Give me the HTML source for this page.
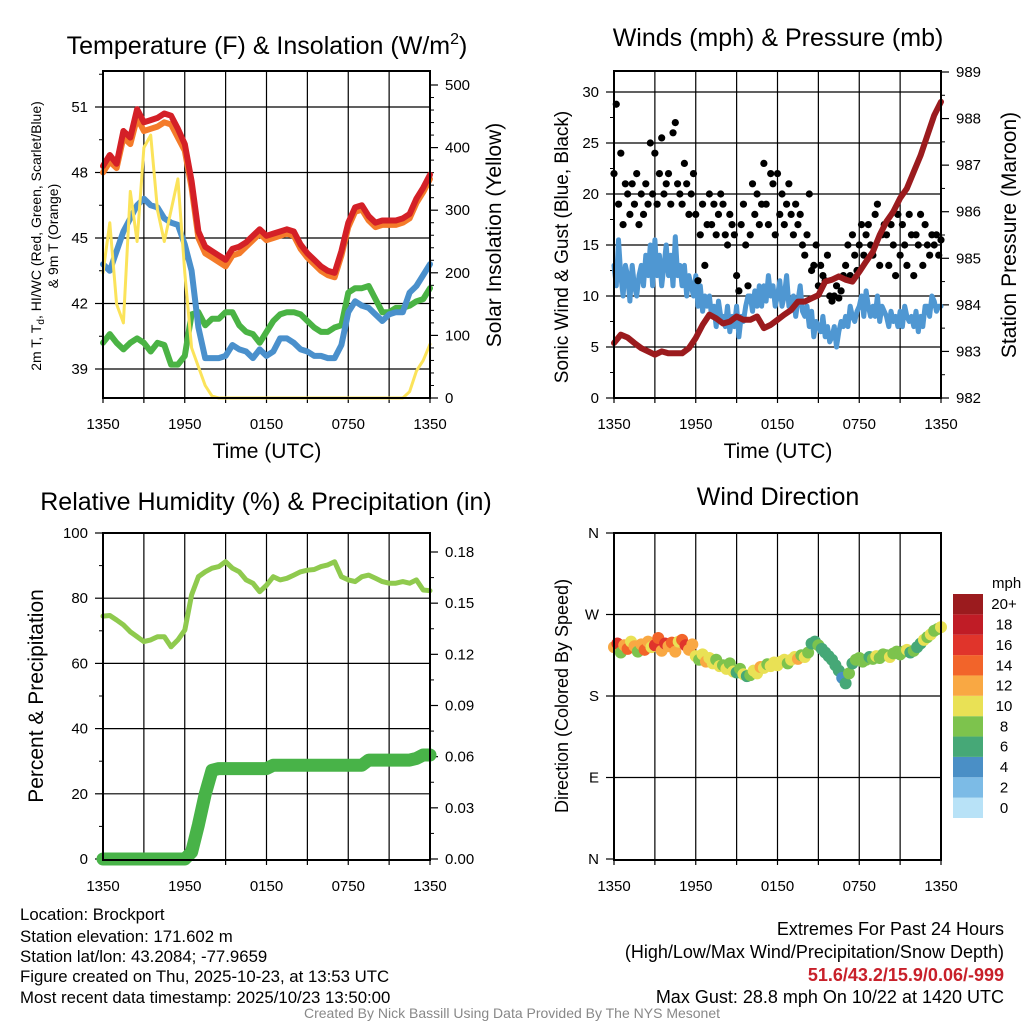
<!DOCTYPE html>
<html><head><meta charset="utf-8"><style>
html,body{margin:0;padding:0;background:#fff;}
svg{display:block;font-family:"Liberation Sans",sans-serif;}
</style></head><body>
<svg id="root" width="1024" height="1024" viewBox="0 0 1024 1024" xmlns="http://www.w3.org/2000/svg">
<rect x="0" y="0" width="1024" height="1024" fill="#fff"/>
<g id="layer"></g>
<text x="267" y="54" font-size="25" text-anchor="middle">Temperature (F) &amp; Insolation (W/m<tspan font-size="16" dy="-10">2</tspan><tspan dy="10">)</tspan></text>
<text x="778" y="46" font-size="25" text-anchor="middle">Winds (mph) &amp; Pressure (mb)</text>
<text x="266" y="510" font-size="25" text-anchor="middle">Relative Humidity (%) &amp; Precipitation (in)</text>
<text x="778" y="505" font-size="25" text-anchor="middle">Wind Direction</text>
<text x="267" y="458" font-size="21" text-anchor="middle">Time (UTC)</text>
<text x="778" y="458" font-size="21" text-anchor="middle">Time (UTC)</text>
<text transform="translate(41,236) rotate(-90)" font-size="14" text-anchor="middle">2m T, T<tspan font-size="10" dy="3">d</tspan><tspan dy="-3">, HI/WC (Red, Green, Scarlet/Blue)</tspan></text>
<text transform="translate(58,236) rotate(-90)" font-size="14" text-anchor="middle">&amp; 9m T (Orange)</text>
<text transform="translate(501,235) rotate(-90)" font-size="21" text-anchor="middle">Solar Insolation (Yellow)</text>
<text transform="translate(568,247) rotate(-90)" font-size="19" text-anchor="middle">Sonic Wind &amp; Gust (Blue, Black)</text>
<text transform="translate(1016,235) rotate(-90)" font-size="21" text-anchor="middle">Station Pressure (Maroon)</text>
<text transform="translate(43,696) rotate(-90)" font-size="21" text-anchor="middle">Percent &amp; Precipitation</text>
<text transform="translate(568,696) rotate(-90)" font-size="18" text-anchor="middle">Direction (Colored By Speed)</text>
<g font-size="16.8">
<text x="20" y="920">Location: Brockport</text>
<text x="20" y="942">Station elevation: 171.602 m</text>
<text x="20" y="962">Station lat/lon: 43.2084; -77.9659</text>
<text x="20" y="982">Figure created on Thu, 2025-10-23, at 13:53 UTC</text>
<text x="20" y="1003">Most recent data timestamp: 2025/10/23 13:50:00</text>
</g>
<g font-size="18" text-anchor="end">
<text x="1004" y="935">Extremes For Past 24 Hours</text>
<text x="1004" y="958">(High/Low/Max Wind/Precipitation/Snow Depth)</text>
<text x="1004" y="981" fill="#c8202a" font-weight="bold">51.6/43.2/15.9/0.06/-999</text>
<text x="1004" y="1003">Max Gust: 28.8 mph On 10/22 at 1420 UTC</text>
</g>
<text x="512" y="1018" font-size="14" fill="#888" text-anchor="middle">Created By Nick Bassill Using Data Provided By The NYS Mesonet</text>
</svg>
<script>
// ---- data (half-hour samples, 0..24 h) ----
const xTickLabels = ["1350","1950","0150","0750","1350"];
const tempRed = [48.3,48.8,48.4,49.9,49.6,50.9,50.3,50.4,50.5,50.7,50.6,50.0,49.3,47.6,45.3,44.6,44.4,44.2,44.0,44.5,44.6,44.8,45.1,45.4,45.1,45.2,45.3,45.4,45.3,44.7,44.3,44.0,43.7,43.5,43.4,44.4,45.7,46.4,46.5,46.0,45.7,45.8,45.8,45.8,45.9,46.1,46.8,47.3,47.9];
const temp9m = [48.0,48.5,48.2,49.6,49.3,50.5,49.9,50.0,50.1,50.3,50.2,49.6,49.0,47.3,45.0,44.3,44.1,43.9,43.7,44.2,44.3,44.6,44.9,45.2,44.9,45.0,45.1,45.2,45.1,44.5,44.1,43.8,43.5,43.3,43.2,44.2,45.5,46.2,46.3,45.8,45.5,45.6,45.6,45.6,45.7,45.9,46.6,47.1,47.7];
const windChill = [43.8,43.5,44.4,45.3,45.9,46.5,46.8,46.5,46.4,45.9,45.7,45.6,44.7,43.5,40.9,39.5,39.5,39.5,39.6,40.1,39.9,39.8,39.5,39.9,39.6,39.8,40.4,40.4,40.2,39.9,39.8,39.6,39.6,39.5,39.5,40.1,41.6,42.1,41.9,41.8,41.5,41.2,41.5,41.6,41.6,42.5,42.8,43.3,43.8];
const dewPoint = [40.2,40.6,40.2,39.9,40.2,40.4,40.2,39.8,40.2,40.1,39.2,39.2,39.6,41.5,41.6,41.0,41.3,41.3,41.6,41.6,41.0,40.7,40.6,40.2,40.7,41.2,41.5,41.6,41.6,41.5,41.2,40.9,40.7,40.7,40.9,41.0,42.5,42.7,42.7,42.8,42.2,41.6,41.6,41.8,41.8,41.9,42.1,42.2,42.7];
const solar = [200,280,150,120,330,250,400,420,300,250,300,350,200,80,50,20,3,0,0,0,0,0,0,0,0,0,0,0,0,0,0,0,0,0,0,0,0,0,0,0,0,0,0,0,0,10,43,60,86];
// winds: 6 samples per hour
const gust = [22,28.8,19,24,17,21, 20,18,21,19,22,17, 20,18,21,19,25,20, 24,19,22,25.5,20,21, 22,19,26,27,21,20, 19,23,21,18,20,22, 18,11.5,16,19,13,17, 20,17,19,16,18,20, 19,16,15,18,17,16, 12,10.5,17,19,15,11, 16,21,18,20,17,19, 23,19,17,22,21,16, 22,18,20,17,19,21, 18,16,19,17,18,15, 14,16,20,12.5,13,15, 11,13,12,11.5,14,10, 9.5,10,11,9.8,10.5,12, 13,15,12,16,14,12.5, 15,17,14,16,17,15, 14,18,19,13,16,17, 16,13,17,15,12,18, 14,17,15,13,18,16, 12,16,15,18,13,17, 15,14,16,15,16,14, 15.5];
const windSpeed = [13,11,15.5,12,10,13, 12,9.5,13,11,10,12, 13,11,14,12,15,11, 15.5,12,14,11,13,15, 12,14,11,15.8,12,13, 11,13,10,12,11,10, 12,9,11,8.5,10,9, 10,8,9,7,9.5,8, 8,7,9,6.5,8,7, 9,6,8,7.5,9,10, 10,8.5,10.5,9,11,9, 11,9.5,12,10,11,9, 10,11.5,9,10,12,9, 9,10,8,9.5,11,8.5, 8,9,7,8.5,6,7.5, 7,6.5,8,6,7,5.5, 6,7,5,6.5,7.5,7, 8,7,9,8,7.5,8.5, 9,10,8,10.5,9,8, 9,8,10,7.5,9,8.5, 8,7,8.5,7.5,8,7, 8.5,7,9,8,7.5,8, 7,8.5,6.5,8,7,9, 9,8,10,9.5,8.5,9, 9];
const pressure = [983.18,983.36,983.3,983.18,983.07,983.0,982.93,983.0,982.96,982.96,982.96,983.07,983.29,983.57,983.79,983.71,983.6,983.64,983.75,983.68,983.68,983.75,983.5,983.57,983.68,983.79,983.89,984.07,984.07,984.14,984.21,984.5,984.54,984.61,984.54,984.5,984.71,984.93,985.14,985.5,985.79,986.0,986.29,986.5,986.86,987.21,987.64,988.07,988.36];
const rh = [74.5,74.7,73.3,71.8,69.7,68.2,66.7,67.2,68.2,68.2,65.1,67.2,70.2,81,86.6,88.1,89.2,89.7,91.2,89.2,88.1,85.6,84.6,82,84,86.6,85.6,86.1,87.1,88.1,88.6,88.8,89.7,90.2,91.2,86.6,85.6,85.1,86.6,87.1,86.1,85.1,84.6,84.6,85.1,84.6,85.6,82.5,82.3];
const precip = [0,0,0,0,0,0,0,0,0,0,0,0,0,0.004,0.02,0.038,0.052,0.053,0.053,0.053,0.053,0.053,0.053,0.053,0.053,0.055,0.055,0.055,0.055,0.055,0.055,0.055,0.055,0.055,0.055,0.055,0.055,0.055,0.055,0.058,0.058,0.058,0.058,0.058,0.058,0.058,0.059,0.061,0.061];
// wind direction: 4 samples per hour
const windDir = [234,238,228,236, 232,240,235,229, 237,231,240,234, 236,244,230,238, 235,239,229,240, 242,236,231,237, 224,220,226,218, 222,216,220,213, 214,210,216,207, 206,210,204,202, 203,208,205,212, 211,215,213,217, 214,218,220,216, 220,223,221,225, 223,228,238,240, 236,232,228,224, 220,214,208,200, 194,205,216,220, 222,218,220,223, 221,224,222,226, 225,223,227,229, 226,229,231,228, 230,234,238,242, 245,248,252,254, 256];
const dirSpeed = [13,16,9,12, 14,11,13,8, 12,15,13,10, 17,14,12,16, 13,15,12,10, 14,17,12,13, 11,9,10,12, 10,11,9,10, 9,10,8,11, 7,9,10,6, 8,11,10,12, 10,9,11,10, 10,11,10,9, 11,10,12,9, 10,8,6,7, 8,7,6,7, 7,6,6,5, 6,8,7,8, 8,9,8,7, 8,10,8,9, 8,10,9,8, 9,8,10,7, 8,7,6,10, 9,10,8,9, 10];
const speedColors = ["#b8e2f7","#7cbbe6","#4a8fc6","#46a877","#7dc34d","#e9e155","#f9a843","#f2642a","#e0342b","#c01c26","#9b1b1e"];
const speedLabels = ["0","2","4","6","8","10","12","14","16","18","20+"];

const NS="http://www.w3.org/2000/svg";
const layer=document.getElementById('layer');
function mk(tag,attrs,parent){const e=document.createElementNS(NS,tag);for(const k in attrs)e.setAttribute(k,attrs[k]);(parent||layer).appendChild(e);return e;}
function lin(d0,d1,r0,r1){return v=>r0+(v-d0)/(d1-d0)*(r1-r0);}

const panels={
 temp:{x0:103,x1:430,y0:71,y1:398},
 wind:{x0:614,x1:941,y0:71,y1:398},
 rh:{x0:103,x1:430,y0:533,y1:860},
 dir:{x0:614,x1:941,y0:533,y1:860}
};
function frame(p,name){
 const g=mk('g',{});
 
 
 const xs=lin(0,24,p.x0,p.x1);
 for(let h=3;h<24;h+=3){const l=mk('line',{x1:xs(h),x2:xs(h),y1:p.y0,y2:p.y1,stroke:'#000','stroke-width':1.2},g);
  }
 for(let h=0;h<=24;h+=3){mk('line',{x1:xs(h),x2:xs(h),y1:p.y1,y2:p.y1+5,stroke:'#000','stroke-width':1.2},g);}
 xTickLabels.forEach((t,i)=>{const tx=mk('text',{x:xs(i*6),y:p.y1+31,'font-size':15,'text-anchor':'middle'},g);tx.textContent=t;
  });
 return xs;
}
function hgrid(p,ys,vals){vals.forEach(v=>{const l=mk('line',{x1:p.x0,x2:p.x1,y1:ys(v),y2:ys(v),stroke:'#000','stroke-width':1.2});
 });}
function yTicks(p,ys,vals,labels,side,fs){vals.forEach((v,i)=>{
 const x=side==='l'?p.x0:p.x1;const d=side==='l'?-8:8;
 mk('line',{x1:x,x2:x+d,y1:ys(v),y2:ys(v),stroke:'#000','stroke-width':1.2});
 const t=mk('text',{x:side==='l'?x-15:x+15,y:ys(v)+5,'font-size':fs||15,'text-anchor':side==='l'?'end':'start'});t.textContent=labels[i];
 });}
function minor(p,ys,vals,side){vals.forEach(v=>{const x=side==='l'?p.x0:p.x1;mk('line',{x1:x,x2:x+(side==='l'?-4:4),y1:ys(v),y2:ys(v),stroke:'#000','stroke-width':1});});}
function line(arr,xs,ys,step,color,w,name){
 const pts=arr.map((v,i)=>xs(i*step).toFixed(1)+','+ys(v).toFixed(1)).join(' ');
 const pl=mk('polyline',{points:pts,fill:'none',stroke:color,'stroke-width':w,'stroke-linejoin':'round','stroke-linecap':'round'});
 return pl;}
function border(p){mk('rect',{x:p.x0,y:p.y0,width:p.x1-p.x0,height:p.y1-p.y0,fill:'none',stroke:'#000','stroke-width':2});}

// ---- Panel 1: temperature ----
{const p=panels.temp;const xs=frame(p,'temperature');
 const ys=lin(39,51,369,107);const ysr=lin(0,500,398,85);
 hgrid(p,ys,[39,42,45,48,51]);
 yTicks(p,ys,[39,42,45,48,51],["39","42","45","48","51"],'l');
 minor(p,ys,[40.5,43.5,46.5,49.5,52.5,37.5].filter(v=>ys(v)>p.y0&&ys(v)<p.y1),'l');
 yTicks(p,ysr,[0,100,200,300,400,500],["0","100","200","300","400","500"],'r');
 const m=[];for(let v=20;v<520;v+=20)if(v%100)m.push(v);minor(p,ysr,m,'r');
 line(dewPoint,xs,ys,0.5,'#4ab344',6,'dewpoint-line');
 line(windChill,xs,ys,0.5,'#4a90cc',6,'windchill-line');
 line(temp9m,xs,ys,0.5,'#f47b2a',6,'temp-9m-line');
 line(tempRed,xs,ys,0.5,'#d42027',6,'temp-2m-line');
 line(solar,xs,ysr,0.5,'#fbe35a',3,'solar-insolation-line');
 border(p);}

// ---- Panel 2: winds ----
{const p=panels.wind;const xs=frame(p,'winds');
 const ys=lin(0,30,398,92);const ysr=lin(982,989,398,72);
 hgrid(p,ys,[5,10,15,20,25,30]);
 yTicks(p,ys,[0,5,10,15,20,25,30],["0","5","10","15","20","25","30"],'l');
 minor(p,ys,[2.5,7.5,12.5,17.5,22.5,27.5],'l');
 yTicks(p,ysr,[982,983,984,985,986,987,988,989],["982","983","984","985","986","987","988","989"],'r');
 minor(p,ysr,[982.5,983.5,984.5,985.5,986.5,987.5,988.5],'r');
 line(windSpeed,xs,ys,1/6,'#4f97d2',5,'sonic-wind-line');
 gust.forEach((g,i)=>{const c=mk('circle',{cx:xs(i/6),cy:ys(g),r:3.6,fill:'#000'});
  });
 line(pressure,xs,ysr,0.5,'#9b1b1e',6,'pressure-line');
 border(p);}

// ---- Panel 3: humidity & precip ----
{const p=panels.rh;const xs=frame(p,'humidity');
 const ys=lin(0,100,859,533);const ysr=lin(0,0.18,859,552);
 hgrid(p,ys,[20,40,60,80]);
 yTicks(p,ys,[0,20,40,60,80,100],["0","20","40","60","80","100"],'l');
 minor(p,ys,[10,30,50,70,90],'l');
 yTicks(p,ysr,[0,0.03,0.06,0.09,0.12,0.15,0.18],["0.00","0.03","0.06","0.09","0.12","0.15","0.18"],'r');
 minor(p,ysr,[0.015,0.045,0.075,0.105,0.135,0.165],'r');
 line(rh,xs,ys,0.5,'#8fca4e',5,'relative-humidity-line');
 line(precip,xs,ysr,0.5,'#48b348',13,'precipitation-line');
 border(p);}

// ---- Panel 4: wind direction ----
{const p=panels.dir;const xs=frame(p,'wind-direction');
 const ys=lin(0,360,859,533);
 hgrid(p,ys,[90,180,270]);
 yTicks(p,ys,[0,90,180,270,360],["N","E","S","W","N"],'l');
 windDir.forEach((d,i)=>{const b=Math.min(10,Math.max(0,Math.floor(dirSpeed[i]/2)));
  const c=mk('circle',{cx:xs(i/4),cy:ys(d),r:6,fill:speedColors[b]});
  });
 border(p);
 const cb=mk('g',{});
 
 const t=mk('text',{x:992,y:588,'font-size':15},cb);t.textContent='mph';
 const bh=224/speedColors.length;
 speedColors.forEach((col,i)=>{const top=818-(i+1)*bh;
  const r=mk('rect',{x:953,y:top,width:30,height:bh,fill:col},cb);
  
  const l=mk('text',{x:1004,y:top+bh/2+5,'font-size':15,'text-anchor':'middle'},cb);l.textContent=speedLabels[i];
  });}
</script>
</body></html>
